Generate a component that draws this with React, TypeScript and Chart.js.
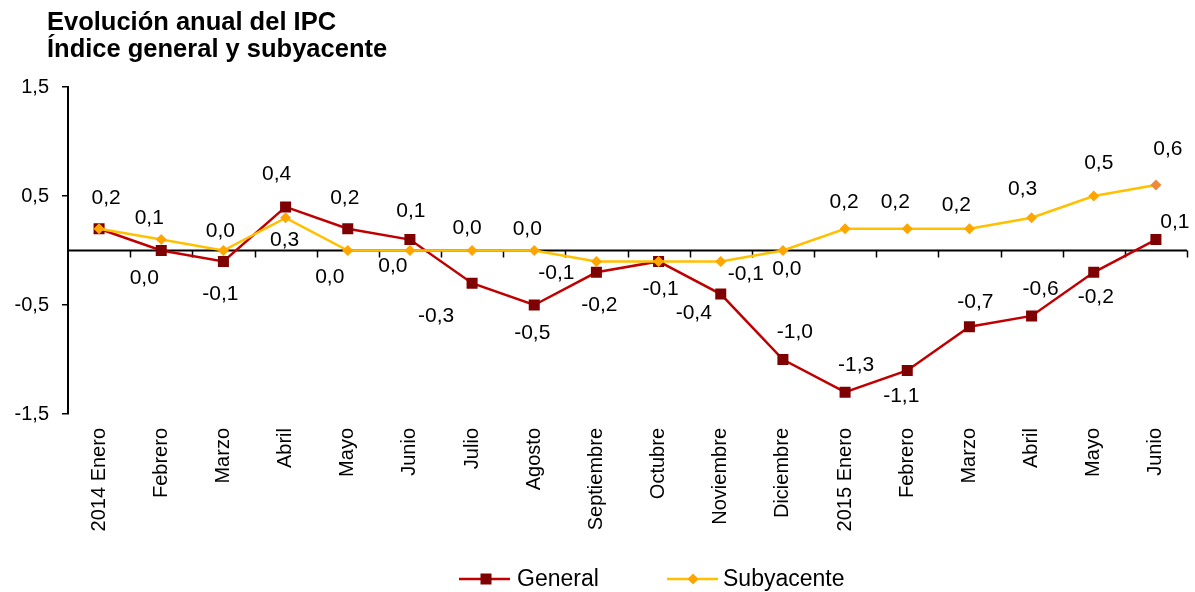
import React, { useEffect, useRef } from 'react';
import { Chart, registerables } from 'chart.js';

Chart.register(...registerables);

// ---- Data ----
const categories = [
  '2014 Enero', 'Febrero', 'Marzo', 'Abril', 'Mayo', 'Junio', 'Julio', 'Agosto',
  'Septiembre', 'Octubre', 'Noviembre', 'Diciembre', '2015 Enero', 'Febrero',
  'Marzo', 'Abril', 'Mayo', 'Junio',
];
const generalValues = [0.2, 0.0, -0.1, 0.4, 0.2, 0.1, -0.3, -0.5, -0.2, -0.1, -0.4, -1.0, -1.3, -1.1, -0.7, -0.6, -0.2, 0.1];
const subyacenteValues = [0.2, 0.1, 0.0, 0.3, 0.0, 0.0, 0.0, 0.0, -0.1, -0.1, -0.1, 0.0, 0.2, 0.2, 0.2, 0.3, 0.5, 0.6];
const yTickValues = [-1.5, -0.5, 0.5, 1.5];
const titleLines = ['Evolución anual del IPC', 'Índice general y subyacente'];
const seriesNames = ['General', 'Subyacente'];

// ---- Style: data label offsets relative to each point [dx, dy] ----
const generalLabelOffsets = [
  [7, -30], [-17, 28], [-3, 33], [-9, -33], [-3, -30], [1, -28], [-36, 33], [-2, 28], [3, 33],
  [2, 28], [-27, 19], [12, -27], [11, -27], [-6, 26], [6, -25], [9, -27], [2, 25], [19, -17],
];
const subyacenteLabelOffsets = [
  [7, -30], [-12, -21], [-3, -19], [-1, 22], [-18, 27], [-17, 16], [-5, -22], [-7, -21], [-40, 12],
  [2, 28], [25, 13], [4, 19], [-1, -26], [-12, -26], [-13, -23], [-9, -29], [5, -33], [12, -36],
];

const FONT = '"Liberation Sans", Arial, Helvetica, sans-serif';
const GEN_LINE = '#C00000';
const GEN_MARK = '#7F0000';
const SUB_LINE = '#FFC000';
const SUB_MARK = '#FFA500';
const SUB_LAST = '#F0883A';

const fmt = (v: number) => v.toFixed(1).replace('.', ',');

export default function App() {
  const ref = useRef<HTMLCanvasElement | null>(null);

  useEffect(() => {
    if (!ref.current) return;

    const axisPlugin = {
      id: 'zeroAxis',
      beforeDatasetsDraw(chart: any) {
        const { ctx, chartArea, scales } = chart;
        const y0 = scales.y.getPixelForValue(0);
        const n = categories.length;
        const w = (chartArea.right - chartArea.left) / n;
        ctx.save();
        ctx.strokeStyle = '#000';
        ctx.lineWidth = 2;
        ctx.beginPath();
        ctx.moveTo(chartArea.left - 1, y0);
        ctx.lineTo(chartArea.right, y0);
        ctx.stroke();
        ctx.lineWidth = 1.5;
        ctx.beginPath();
        for (let i = 1; i <= n; i++) {
          const x = Math.round(chartArea.left + i * w) + 0.5;
          ctx.moveTo(x, y0);
          ctx.lineTo(x, y0 + 7);
        }
        ctx.stroke();
        ctx.restore();
      },
    };

    const labelPlugin = {
      id: 'pointLabels',
      afterDatasetsDraw(chart: any) {
        const { ctx } = chart;
        ctx.save();
        ctx.font = `21px ${FONT}`;
        ctx.fillStyle = '#000';
        ctx.textAlign = 'center';
        ctx.textBaseline = 'middle';
        const genMeta = chart.getDatasetMeta(0);
        const subMeta = chart.getDatasetMeta(1);
        genMeta.data.forEach((pt: any, i: number) => {
          const o = generalLabelOffsets[i];
          ctx.fillText(fmt(generalValues[i]), pt.x + o[0], pt.y + o[1]);
        });
        subMeta.data.forEach((pt: any, i: number) => {
          const o = subyacenteLabelOffsets[i];
          const g = generalLabelOffsets[i];
          // Skip a label identical in text and place to the general one
          if (subyacenteValues[i] === generalValues[i] && o[0] === g[0] && o[1] === g[1]) return;
          ctx.fillText(fmt(subyacenteValues[i]), pt.x + o[0], pt.y + o[1]);
        });
        ctx.restore();
      },
    };

    const decorPlugin = {
      id: 'decor',
      afterDraw(chart: any) {
        const { ctx } = chart;
        ctx.save();
        // Title
        ctx.fillStyle = '#000';
        ctx.font = `bold 25.5px ${FONT}`;
        ctx.textAlign = 'left';
        ctx.textBaseline = 'alphabetic';
        ctx.fillText(titleLines[0], 47, 30);
        ctx.fillText(titleLines[1], 47, 57);

        // Legend
        const ly = 579;
        ctx.lineWidth = 2.5;
        // General
        ctx.strokeStyle = GEN_LINE;
        ctx.beginPath();
        ctx.moveTo(459, ly);
        ctx.lineTo(510, ly);
        ctx.stroke();
        ctx.fillStyle = GEN_MARK;
        ctx.fillRect(486 - 5.5, ly - 5.5, 11, 11);
        // Subyacente
        ctx.strokeStyle = SUB_LINE;
        ctx.beginPath();
        ctx.moveTo(667, ly);
        ctx.lineTo(718, ly);
        ctx.stroke();
        ctx.fillStyle = SUB_MARK;
        ctx.beginPath();
        ctx.moveTo(693 - 5.5, ly);
        ctx.lineTo(693, ly - 5.5);
        ctx.lineTo(693 + 5.5, ly);
        ctx.lineTo(693, ly + 5.5);
        ctx.closePath();
        ctx.fill();

        ctx.fillStyle = '#000';
        ctx.font = `23px ${FONT}`;
        ctx.textBaseline = 'middle';
        ctx.fillText(seriesNames[0], 517, ly + 1);
        ctx.fillText(seriesNames[1], 723, ly + 1);
        ctx.restore();
      },
    };

    const subPointColors = subyacenteValues.map((_, i) =>
      i === subyacenteValues.length - 1 ? SUB_LAST : SUB_MARK
    );

    const chart = new Chart(ref.current, {
      type: 'line',
      data: {
        labels: categories,
        datasets: [
          {
            label: seriesNames[0],
            data: generalValues,
            borderColor: GEN_LINE,
            borderWidth: 2.5,
            backgroundColor: GEN_MARK,
            pointStyle: 'rect',
            pointRadius: 7.8,
            pointBackgroundColor: GEN_MARK,
            pointBorderColor: GEN_MARK,
            pointBorderWidth: 0,
            tension: 0,
            order: 2,
          },
          {
            label: seriesNames[1],
            data: subyacenteValues,
            borderColor: SUB_LINE,
            borderWidth: 2.5,
            backgroundColor: SUB_MARK,
            pointStyle: 'rectRot',
            pointRadius: 5.5,
            pointBackgroundColor: subPointColors,
            pointBorderColor: subPointColors,
            pointBorderWidth: 0,
            tension: 0,
            order: 1,
          },
        ],
      },
      options: {
        responsive: false,
        animation: false,
        devicePixelRatio: 1,
        layout: { padding: { top: 87, right: 8, bottom: 60, left: 0 } },
        plugins: {
          legend: { display: false },
          title: { display: false },
          tooltip: { enabled: false },
        },
        scales: {
          x: {
            type: 'category',
            offset: true,
            grid: { display: false, drawTicks: false },
            border: { display: false },
            ticks: {
              autoSkip: false,
              maxRotation: 90,
              minRotation: 90,
              padding: 14,
              color: '#000',
              font: { size: 20, family: FONT },
            },
            afterFit: (s: any) => {
              s.height = 118;
            },
          },
          y: {
            min: -1.5,
            max: 1.5,
            afterBuildTicks: (s: any) => {
              s.ticks = yTickValues.map((v) => ({ value: v }));
            },
            grid: {
              display: true,
              drawOnChartArea: false,
              drawTicks: true,
              tickLength: 6,
              color: '#000',
              lineWidth: 1.5,
            },
            border: { display: true, color: '#000', width: 2 },
            ticks: {
              padding: 13,
              color: '#000',
              font: { size: 20, family: FONT },
              callback: (v: any) => fmt(Number(v)),
            },
            afterFit: (s: any) => {
              s.width = 68;
            },
          },
        },
      },
      plugins: [axisPlugin, labelPlugin, decorPlugin],
    } as any);

    return () => {
      chart.destroy();
    };
  }, []);

  return (
    <div style={{ position: 'absolute', left: 0, top: 0, width: 1195, height: 592, background: '#fff' }}>
      <canvas ref={ref} width={1195} height={592} />
    </div>
  );
}
